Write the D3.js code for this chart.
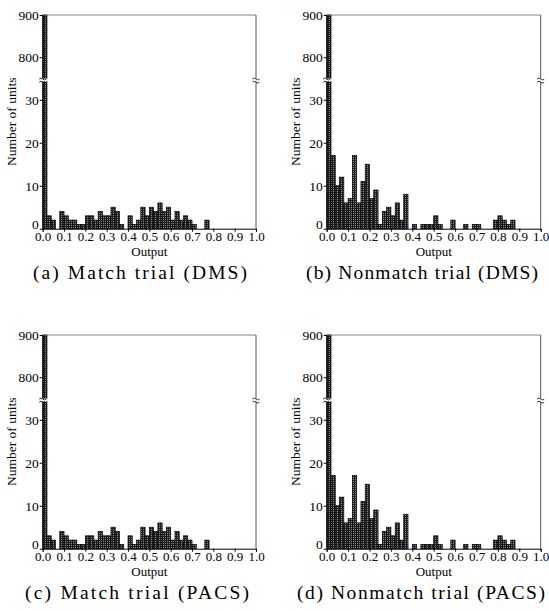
<!DOCTYPE html>
<html>
<head>
<meta charset="utf-8">
<script src="https://cdn.jsdelivr.net/npm/d3@7/dist/d3.min.js"></script>
<style>
  html, body { margin: 0; padding: 0; background: #fff; }
  svg { display: block; }
</style>
</head>
<body>
<svg id="chart" width="549" height="611"></svg>
<script>
// ---------- DATA (counts per 0.02-wide output bin, 50 bins from 0.0 to 1.0) ----------
const matchDMS = [900,3,2,0,4,3,2,2,1,1, 3,3,2,4,3,3,5,4,1,0, 3,1,2,5,3,5,4,6,4,5, 2,4,2,3,2,1,0,0,2,0, 0,0,0,0,0,0,0,0,0,0];
const nonmatchDMS = [900,17,10,12,6,7,17,6,11,15, 7,9,1,4,5,3,6,2,8,0, 1,0,1,1,1,3,1,0,0,2, 0,0,1,0,1,1,0,0,0,2, 3,2,1,2,0,0,0,0,0,0];
const matchPACS = [900,3,2,0,4,3,2,2,1,1, 3,3,2,4,3,3,5,4,1,0, 3,1,2,5,3,5,4,6,4,5, 2,4,2,3,2,1,0,0,2,0, 0,0,0,0,0,0,0,0,0,0];
const nonmatchPACS = [900,17,10,12,6,7,17,6,11,15, 7,9,1,4,5,3,6,2,8,0, 1,0,1,1,1,3,1,0,0,2, 0,0,1,0,1,1,0,0,0,2, 3,2,1,2,0,0,0,0,0,0];
const binWidth = 0.02;
const xTickValues = [0,0.1,0.2,0.3,0.4,0.5,0.6,0.7,0.8,0.9,1.0];
const xTickLabels = ["0.0","0.1","0.2","0.3","0.4","0.5","0.6","0.7","0.8","0.9","1.0"];
const yLowerTicks = [0,10,20,30];
const yUpperTicks = [800,900];
const lowerDomain = [0, 34.6];
const upperDomain = [746, 900];
const captions = ["(a) Match trial (DMS)", "(b) Nonmatch trial (DMS)", "(c) Match trial (PACS)", "(d) Nonmatch trial (PACS)"];
const xTitle = "Output";
const yTitle = "Number of units";

// ---------- LAYOUT ----------
const svg = d3.select("#chart");
const defs = svg.append("defs");
const pat = defs.append("pattern").attr("id","hatch")
  .attr("patternUnits","userSpaceOnUse").attr("width",2).attr("height",2);
pat.append("rect").attr("width",2).attr("height",2).attr("fill","#1e1e1e");
pat.append("rect").attr("x",1).attr("y",1).attr("width",1).attr("height",1).attr("fill","#8c8c8c");

const panels = [
  {x0:42.7,  x1:256,   yTop:15,  yBot:228.7, data:matchDMS,     cap:captions[0], capX:140, capY:279, capW:214},
  {x0:326.7, x1:540.7, yTop:15,  yBot:228.7, data:nonmatchDMS,  cap:captions[1], capX:422, capY:279, capW:232},
  {x0:42.7,  x1:256,   yTop:335, yBot:548.7, data:matchPACS,    cap:captions[2], capX:137, capY:599, capW:224},
  {x0:326.7, x1:540.7, yTop:335, yBot:548.7, data:nonmatchPACS, cap:captions[3], capX:421, capY:599, capW:248}
];

const serif = "'Liberation Serif', 'Times New Roman', serif";

panels.forEach(p => {
  const g = svg.append("g");
  const yBreak = p.yTop + 65;
  const x = d3.scaleLinear().domain([0,1]).range([p.x0, p.x1]);
  const yLo = d3.scaleLinear().domain(lowerDomain).range([p.yBot, yBreak]);
  const yHi = d3.scaleLinear().domain(upperDomain).range([yBreak, p.yTop]);

  const bins = p.data.map((v,i) => ({v, a: i*binWidth, b: (i+1)*binWidth})).filter(d => d.v > 0);

  // lower segment bars
  g.append("g").selectAll("rect").data(bins).join("rect")
    .attr("x", d => x(d.a))
    .attr("width", d => x(d.b) - x(d.a))
    .attr("y", d => yLo(Math.min(d.v, lowerDomain[1])))
    .attr("height", d => yLo(0) - yLo(Math.min(d.v, lowerDomain[1])))
    .attr("fill","url(#hatch)").attr("stroke","#000").attr("stroke-width",0.7);
  // upper segment bars
  g.append("g").selectAll("rect").data(bins.filter(d => d.v > upperDomain[0])).join("rect")
    .attr("x", d => x(d.a))
    .attr("width", d => x(d.b) - x(d.a))
    .attr("y", d => yHi(d.v))
    .attr("height", d => yHi(upperDomain[0]) - yHi(d.v))
    .attr("fill","url(#hatch)").attr("stroke","#000").attr("stroke-width",0.7);

  // frame: top and right
  g.append("line").attr("x1",p.x0).attr("x2",p.x1).attr("y1",p.yTop).attr("y2",p.yTop)
    .attr("stroke","#666").attr("stroke-width",0.8);
  g.append("line").attr("x1",p.x1).attr("x2",p.x1).attr("y1",p.yTop).attr("y2",p.yBot)
    .attr("stroke","#444").attr("stroke-width",0.9);

  // x axis
  const xAxis = d3.axisBottom(x).tickValues(xTickValues)
    .tickFormat((d,i) => xTickLabels[i]).tickSize(3).tickPadding(0.5);
  const gx = g.append("g").attr("transform",`translate(0,${p.yBot})`).call(xAxis);
  gx.select(".domain").attr("stroke","#000").attr("stroke-width",1);
  gx.selectAll("text").attr("font-family",serif).attr("font-size",13).attr("fill","#000");

  // y axes (lower and upper)
  const gyl = g.append("g").attr("transform",`translate(${p.x0},0)`)
    .call(d3.axisLeft(yLo).tickValues(yLowerTicks).tickSize(3).tickPadding(1).tickSizeOuter(0));
  const gyu = g.append("g").attr("transform",`translate(${p.x0},0)`)
    .call(d3.axisLeft(yHi).tickValues(yUpperTicks).tickSize(3).tickPadding(1).tickSizeOuter(0));
  [gyl, gyu].forEach(ga => {
    ga.select(".domain").attr("stroke","#000").attr("stroke-width",1);
    ga.selectAll("text").attr("font-family",serif).attr("font-size",13.5).attr("fill","#000");
  });
  gyl.selectAll(".tick text").filter(d => d === 0).attr("dy","0.02em");

  // break marks
  [p.x0, p.x1].forEach((bx, k) => {
    const w0 = 4, w1 = k === 0 ? 5 : 4;
    g.append("rect").attr("x", bx - w0).attr("y", yBreak - 1.4).attr("width", w0 + w1).attr("height", 2.8).attr("fill","#fff");
    [-1.6, 1.6].forEach(dy => {
      g.append("path")
        .attr("d", `M${bx-3.5},${yBreak+dy+0.6} q1.75,-2 3.5,0 t3.5,0`)
        .attr("fill","none").attr("stroke","#000").attr("stroke-width",0.8);
    });
  });

  // titles
  g.append("text").attr("x",(p.x0+p.x1)/2).attr("y",p.yBot+27)
    .attr("text-anchor","middle").attr("font-family",serif).attr("font-size",13)
    .text(xTitle);
  g.append("text")
    .attr("transform",`translate(${p.x0-27},${(p.yTop+p.yBot)/2}) rotate(-90)`)
    .attr("text-anchor","middle").attr("font-family",serif).attr("font-size",13.5)
    .text(yTitle);

  // caption
  g.append("text").attr("x",p.capX).attr("y",p.capY)
    .attr("text-anchor","middle").attr("font-family",serif).attr("font-size",19.5)
    .attr("textLength",p.capW).attr("lengthAdjust","spacing")
    .text(p.cap);
});
</script>
</body>
</html>
